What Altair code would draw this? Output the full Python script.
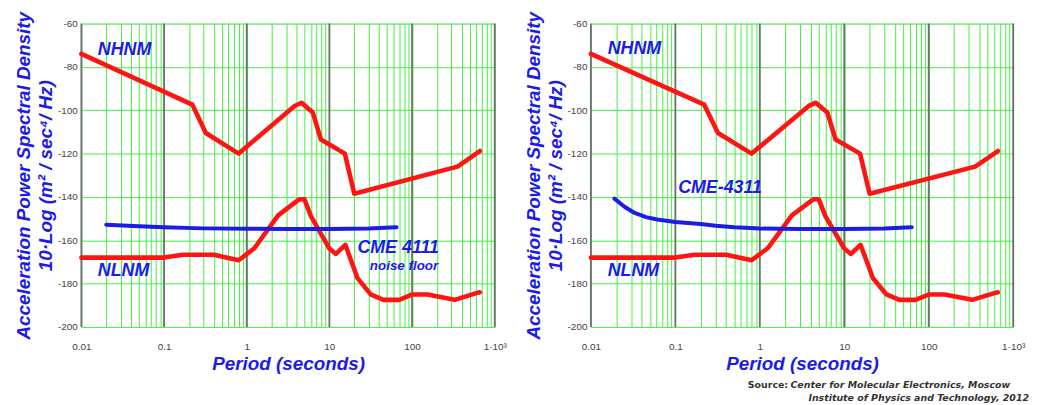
import altair as alt
import pandas as pd

# ---- data ----
nhnm_period = [0.01, 0.22, 0.32, 0.8, 3.8, 4.6, 6.3, 7.9, 15.4, 20, 354.8, 660]
nhnm_psd = [-74.0, -97.4, -110.5, -120.0, -98.0, -96.5, -101.0, -113.5, -120.0, -138.5, -126.0, -118.8]

nlnm_period = [0.01, 0.1, 0.17, 0.4, 0.8, 1.24, 2.4, 4.3, 5.0, 6.0, 10, 12, 15.6, 21.9, 31.6, 45, 70, 101, 154, 328, 600, 660]
nlnm_psd = [-168.0, -168.0, -166.7, -166.7, -169.2, -163.7, -148.5, -141.1, -141.1, -149.0, -163.8, -166.3,
            -162.1, -177.5, -185.0, -187.5, -187.5, -185.0, -185.0, -187.5, -184.4, -184.0]

cme4111_period = [0.02, 0.05, 0.1, 0.3, 1, 3, 10, 30, 65]
cme4111_psd = [-152.8, -153.5, -154.0, -154.5, -154.7, -154.8, -154.8, -154.6, -154.0]

cme4311_period = [0.019, 0.025, 0.033, 0.045, 0.061, 0.1, 0.2, 0.3, 0.5, 1, 3, 10, 30, 63]
cme4311_psd = [-140.8, -144.5, -147.4, -149.3, -150.4, -151.6, -152.5, -153.3, -154.0, -154.6, -154.8, -154.8, -154.6, -154.0]

decades = [0.01, 0.1, 1, 10, 100, 1000]
x_grid = [round(k * 10.0 ** e, 6) for e in range(-2, 3) for k in range(1, 10)] + [1000]
y_ticks = [-200, -180, -160, -140, -120, -100, -80, -60]

RED = "#ff1414"
BLUE = "#1c1ce6"
GREEN = "#44ee44"
FONT = "Liberation Sans"

x_scale = alt.Scale(type="log", domain=[0.01, 1000], nice=False)
y_scale = alt.Scale(domain=[-200, -60], nice=False)

x_axis = alt.Axis(
    values=x_grid, ticks=False, domain=False, labelFlush=False,
    labelExpr="datum.value >= 999 ? '1·10³' : (abs(log(datum.value)/LN10 - round(log(datum.value)/LN10)) < 1e-6 ? toString(datum.value) : '')",
    labelOverlap=False, labelFont=FONT, labelFontSize=10, labelColor="#444", labelPadding=15,
    grid=True, gridColor=GREEN, gridWidth=1, gridOpacity=1,
    title="Period (seconds)", titleFont=FONT, titleFontSize=19, titleFontStyle="italic",
    titleFontWeight="bold", titleColor=BLUE, titlePadding=3,
)
y_axis = alt.Axis(
    values=y_ticks, ticks=False, domain=False,
    labelExpr="toString(datum.value)", labelFont=FONT, labelFontSize=10, labelColor="#444", labelPadding=4,
    grid=True, gridColor=GREEN, gridWidth=1, gridOpacity=1,
    title=["Acceleration Power Spectral Density", "10·Log (m² / sec⁴/ Hz)"],
    titleFont=FONT, titleFontSize=19, titleFontStyle="italic", titleFontWeight="bold",
    titleColor=BLUE, titlePadding=2, titleLineHeight=22,
)


def line_layer(period, psd, color, width):
    df = pd.DataFrame({"period": period, "psd": psd})
    return alt.Chart(df).mark_line(color=color, strokeWidth=width, strokeJoin="round", strokeCap="round").encode(
        x=alt.X("period:Q", scale=x_scale, axis=x_axis),
        y=alt.Y("psd:Q", scale=y_scale, axis=y_axis),
    )


def label(text, xv, yv, size, align="left"):
    return alt.Chart().mark_text(
        text=text, font=FONT, fontSize=size, fontStyle="italic", fontWeight="bold",
        color=BLUE, align=align, baseline="middle",
    ).encode(x=alt.datum(xv, scale=x_scale), y=alt.datum(yv, scale=y_scale))


def decade_rules():
    df = pd.DataFrame({"period": decades})
    return alt.Chart(df).mark_rule(color="#6f6f6f", strokeWidth=1.8).encode(
        x=alt.X("period:Q", scale=x_scale, axis=x_axis)
    )


def source_text(text, xpx, ypx, italic, align):
    kw = dict(text=text, font="DejaVu Sans", fontSize=9.5, fontWeight="bold", color="#333",
              align=align, baseline="middle")
    if italic:
        kw["fontStyle"] = "italic"
    return alt.Chart().mark_text(**kw).encode(x=alt.value(xpx), y=alt.value(ypx))


left = alt.layer(
    decade_rules(),
    line_layer(nhnm_period, nhnm_psd, RED, 4.6),
    line_layer(nlnm_period, nlnm_psd, RED, 4.6),
    line_layer(cme4111_period, cme4111_psd, BLUE, 4),
    label("NHNM", 0.0158, -72, 18),
    label("NLNM", 0.0158, -174.2, 18),
    label("CME 4111", 68, -163.7, 18, "center"),
    label("noise floor", 80, -171.8, 13.5, "center"),
).properties(width=417, height=306)

right = alt.layer(
    decade_rules(),
    line_layer(nhnm_period, nhnm_psd, RED, 4.6),
    line_layer(nlnm_period, nlnm_psd, RED, 4.6),
    line_layer(cme4311_period, cme4311_psd, BLUE, 4),
    label("NHNM", 0.0158, -71.9, 18),
    label("NLNM", 0.0158, -174, 18),
    label("CME-4311", 0.108, -135.7, 18),
    source_text("Source:", 199, 365, False, "right"),
    source_text("Center for Molecular Electronics,  Moscow", 423, 365, True, "right"),
    source_text("Institute of Physics and Technology, 2012", 442, 378, True, "right"),
).properties(width=426, height=306)

chart = alt.hconcat(left, right, spacing=16).properties(
    padding={"left": 6, "top": 1, "right": 0, "bottom": 0}
).configure_view(stroke=GREEN, strokeWidth=1).configure(background="white")

chart.save("out.html", embed_options={"renderer": "svg", "actions": False})
